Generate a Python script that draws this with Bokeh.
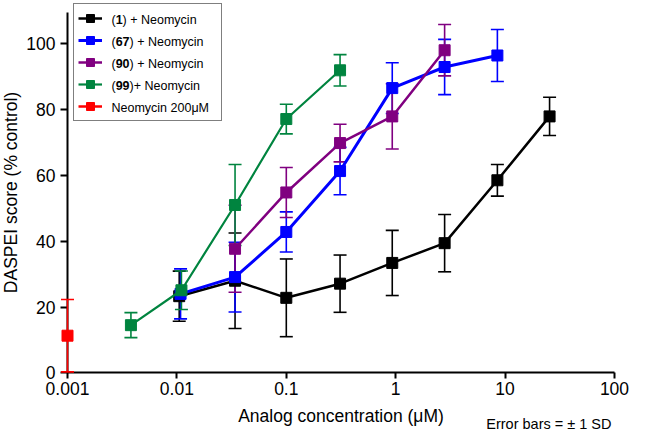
import math
from bokeh.plotting import figure
from bokeh.models import (Range1d, FixedTicker, CustomJSTickFormatter, Whisker, TeeHead,
                          ColumnDataSource, Legend, LegendItem, Label)
from bokeh.core.properties import value
from bokeh.embed import file_html
from bokeh.resources import INLINE

# ---------------- data ----------------
conc_1 = [0.0105, 0.034, 0.10, 0.31, 0.93, 2.8, 8.5, 25.5]
score_1 = [23.3, 28.0, 22.8, 27.1, 33.4, 39.4, 58.5, 77.9]
sd_1 = [7.6, 14.5, 11.8, 8.7, 9.9, 8.7, 4.8, 5.8]

conc_67 = [0.0108, 0.034, 0.10, 0.31, 0.93, 2.8, 8.5]
score_67 = [24.0, 29.1, 42.8, 61.3, 86.5, 92.9, 96.4]
sd_67 = [7.6, 10.6, 6.1, 7.2, 7.7, 8.4, 7.9]

conc_90 = [0.034, 0.10, 0.31, 0.93, 2.8]
score_90 = [37.7, 54.8, 69.8, 77.9, 98.0]
sd_90 = [13.2, 7.6, 5.7, 9.9, 7.8]

conc_99 = [0.0038, 0.011, 0.034, 0.10, 0.31]
score_99 = [14.5, 25.1, 51.0, 77.1, 91.9]
sd_99 = [3.8, 5.85, 12.3, 4.5, 4.75]

conc_neo = [0.001]
score_neo = [11.3]
sd_neo = [11.0]

x_ticks = [0.001, 0.01, 0.1, 1, 10, 100]
y_ticks = [0, 20, 40, 60, 80, 100]
y_axis_top = 109.5

legend_parts = [("(", "1", ") + Neomycin"),
                ("(", "67", ") + Neomycin"),
                ("(", "90", ") + Neomycin"),
                ("(", "99", ")+ Neomycin"),
                ("Neomycin 200\u03bcM", "", "")]

x_title = "Analog concentration (\u03bcM)"
y_title = "DASPEI score (% control)"
note = "Error bars = \u00b1 1 SD"

FONT = "Liberation Sans"
W, H = 629, 432

# the frame fills the whole canvas; axes are drawn at fixed locations inside it
AX_LEFT, AX_RIGHT = 67, 614           # pixel columns of x = 0.001 and x = 100
lo, hi = math.log10(x_ticks[0]), math.log10(x_ticks[-1])
dec_per_px = (hi - lo) / (AX_RIGHT - AX_LEFT)
x_start = 10 ** (lo - AX_LEFT * dec_per_px)
x_end = 10 ** (hi + (W - AX_RIGHT) * dec_per_px)

p = figure(width=W, height=H, x_axis_type="log",
           x_range=Range1d(x_start, x_end), y_range=Range1d(-18.1, 113.1),
           output_backend="svg", toolbar_location=None,
           min_border_left=0, min_border_right=0, min_border_top=0, min_border_bottom=0)
p.outline_line_color = None
p.grid.visible = False
p.background_fill_color = "white"

series = [
    (conc_1, score_1, sd_1, "#000000", 2.5, "glyph"),
    (conc_67, score_67, sd_67, "#0000FF", 3.0, "glyph"),
    (conc_90, score_90, sd_90, "#800080", 2.5, "glyph"),
    (conc_99, score_99, sd_99, "#00843F", 2.2, "glyph"),
    (conc_neo, score_neo, sd_neo, "#FF0000", 2.5, "overlay"),
]

items = []
for (xs, ys, sds, color, lw, lvl) in series:
    src = ColumnDataSource(dict(x=xs, y=ys,
                                upper=[a + b for a, b in zip(ys, sds)],
                                lower=[a - b for a, b in zip(ys, sds)]))
    wk = Whisker(source=src, base="x", upper="upper", lower="lower", dimension="height",
                 line_color=color, line_width=1.6,
                 upper_head=TeeHead(size=13, line_color=color, line_width=1.6),
                 lower_head=TeeHead(size=13, line_color=color, line_width=1.6))
    if lvl == "overlay":
        wk.level = "overlay"
    p.add_layout(wk)
    ln = p.line("x", "y", source=src, line_color=color, line_width=lw, level=lvl)
    sc = p.scatter("x", "y", source=src, marker="square", size=11,
                   fill_color=color, line_color=color, level=lvl)
    items.append(LegendItem(label=value(" "), renderers=[ln, sc]))

# legend box (glyphs); its text is drawn with labels so that numbers can be bold
PAD, SPACING, ROW = 4, 2, 20
LEG_H = 2 * PAD + len(items) * ROW + (len(items) - 1) * SPACING
LEG_X, LEG_TOP_GAP = AX_LEFT + 6, 5
LEG_BOTTOM = H - LEG_TOP_GAP - LEG_H
legend = Legend(items=items, location=(LEG_X, LEG_BOTTOM), padding=PAD, spacing=SPACING,
                glyph_height=ROW, glyph_width=24, label_height=ROW, label_width=105,
                label_standoff=10, border_line_color="black", border_line_width=1.5,
                background_fill_color="white", background_fill_alpha=0.0,
                label_text_font_size="12.5px", margin=0)
p.add_layout(legend)

FS = 12.5
widths = {"(": 333, ")": 333}
for d in "0123456789":
    widths[d] = 556
text_x = LEG_X + PAD + 24 + 10
top = LEG_BOTTOM + LEG_H
for i, (pre, bold, post) in enumerate(legend_parts):
    cy = top - PAD - ROW / 2 - i * (ROW + SPACING)
    x = text_x
    for txt, style in ((pre, "normal"), (bold, "bold"), (post, "normal")):
        if not txt:
            continue
        p.add_layout(Label(x=x, y=cy, x_units="screen", y_units="screen", text=txt,
                           text_baseline="middle", text_align="left",
                           text_font=FONT, text_font_size="12.5px",
                           text_font_style=style, text_color="black"))
        x += sum(widths.get(c, 556) for c in txt) * FS / 1000.0

# axes
p.xaxis.ticker = FixedTicker(ticks=x_ticks)
p.xaxis.formatter = CustomJSTickFormatter(code="return tick.toString();")
p.xaxis.fixed_location = 0
p.xaxis.bounds = (x_ticks[0], x_ticks[-1])
p.yaxis.ticker = FixedTicker(ticks=y_ticks)
p.yaxis.fixed_location = x_ticks[0]
p.yaxis.bounds = (0, y_axis_top)
p.xaxis.axis_label = x_title
p.yaxis.axis_label = y_title
for ax in (p.xaxis, p.yaxis):
    ax.axis_line_width = 2
    ax.axis_line_color = "black"
    ax.major_tick_line_width = 2
    ax.major_tick_line_color = "black"
    ax.major_tick_in = 0
    ax.minor_tick_line_color = None
    ax.major_label_text_font = FONT
    ax.major_label_text_font_size = "17.5px"
    ax.major_label_text_color = "black"
    ax.axis_label_text_font = FONT
    ax.axis_label_text_font_size = "17.5px"
    ax.axis_label_text_font_style = "normal"
    ax.axis_label_text_color = "black"
p.xaxis.major_tick_out = 6
p.xaxis.major_label_standoff = 3
p.xaxis.axis_label_standoff = 8
p.yaxis.major_tick_out = 7
p.yaxis.major_label_standoff = 5
p.yaxis.axis_label_standoff = 2

p.add_layout(Label(x=x_ticks[-1], y=1, x_units="data", y_units="screen", x_offset=-3,
                   text=note, text_align="right", text_baseline="bottom",
                   text_font=FONT, text_font_size="14.5px", text_color="black"))

open("out.html", "w").write(file_html(p, INLINE))
